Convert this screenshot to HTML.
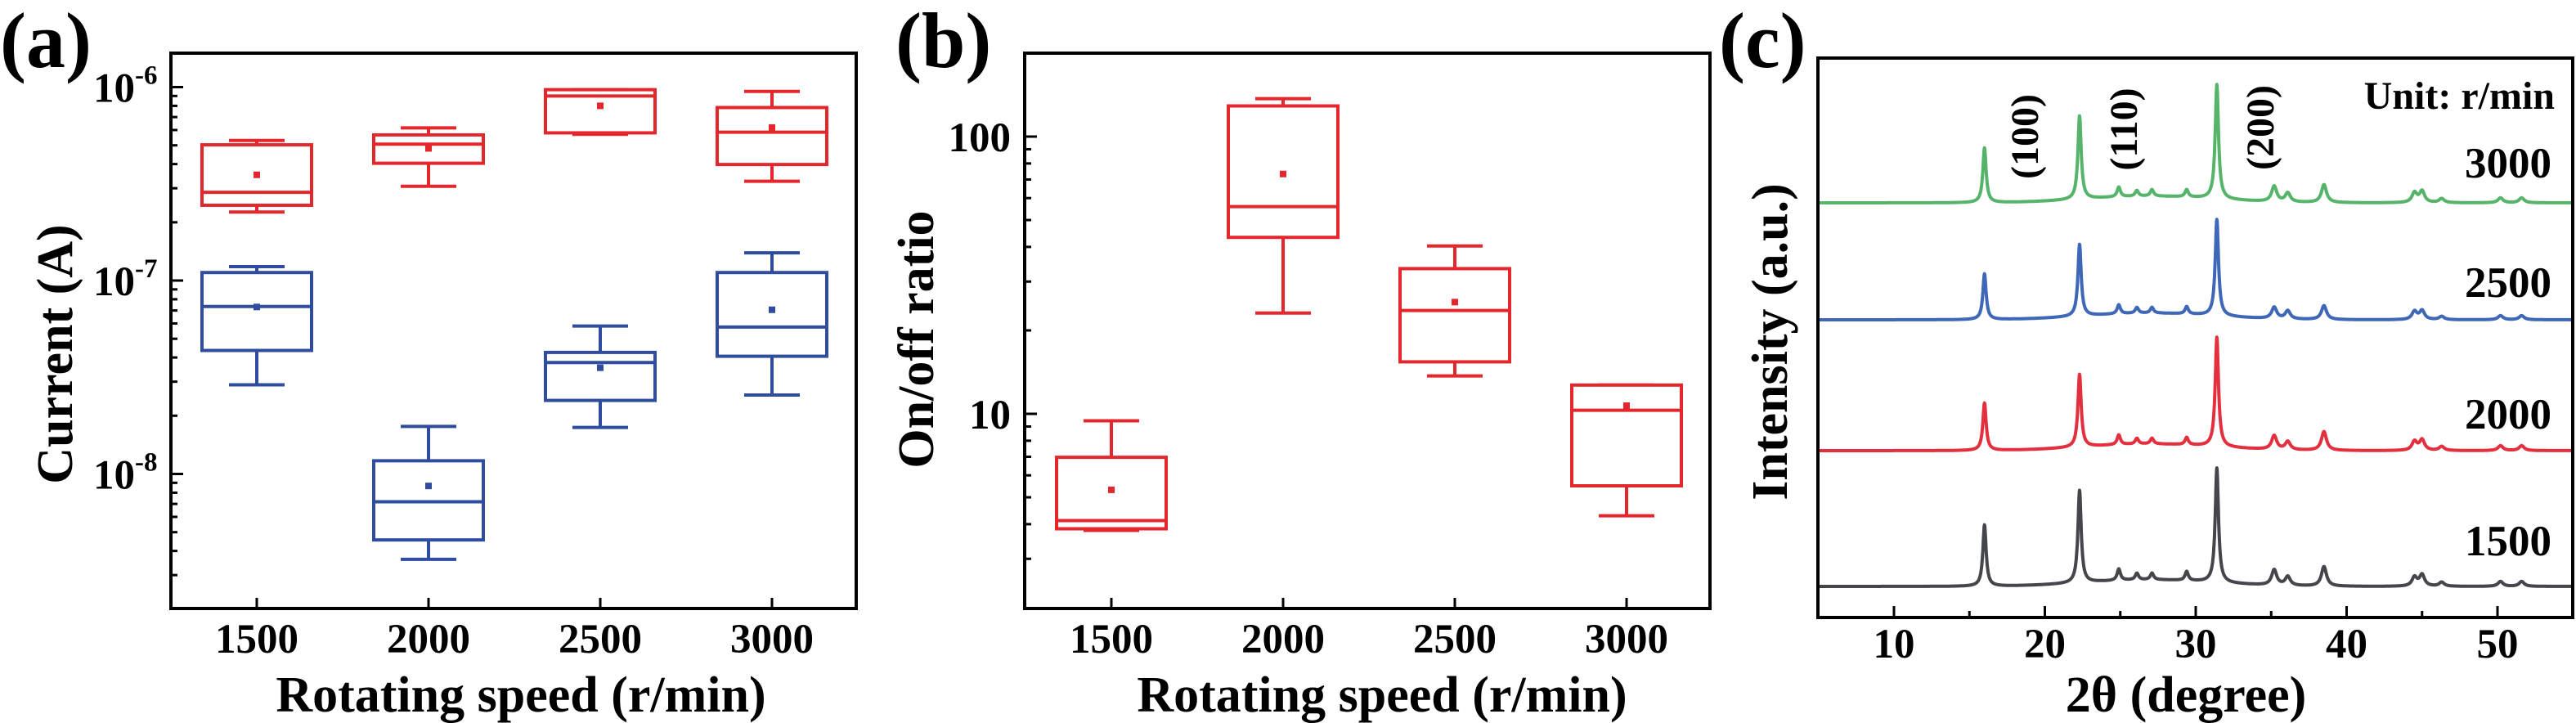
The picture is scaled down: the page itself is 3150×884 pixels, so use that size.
<!DOCTYPE html>
<html><head><meta charset="utf-8"><style>
html,body{margin:0;padding:0;background:#fff;}
svg{display:block;font-family:"Liberation Serif",serif;font-weight:bold;}
</style></head><body>
<svg id="fig" width="3150" height="884" viewBox="0 0 3150 884" xmlns="http://www.w3.org/2000/svg"></svg>
<script>
// ---------- Panel (a) data: current (A) ----------
const catsA = ["1500","2000","2500","3000"];
const onWhiskerTop = [5.3e-7, 6.15e-7, 9.7e-7, 9.5e-7];
const onBoxTop     = [5.03e-7, 5.66e-7, 9.7e-7, 7.84e-7];
const onMedian     = [2.86e-7, 5.07e-7, 9.0e-7, 5.85e-7];
const onBoxBottom  = [2.45e-7, 4.04e-7, 5.8e-7, 3.98e-7];
const onWhiskerBot = [2.26e-7, 3.07e-7, 5.7e-7, 3.26e-7];
const onMean       = [3.52e-7, 4.82e-7, 8.0e-7, 6.18e-7];
const offWhiskerTop = [1.18e-7, 1.76e-8, 5.82e-8, 1.39e-7];
const offBoxTop     = [1.10e-7, 1.17e-8, 4.25e-8, 1.10e-7];
const offMedian     = [7.34e-8, 7.18e-9, 3.77e-8, 5.75e-8];
const offBoxBottom  = [4.35e-8, 4.56e-9, 2.40e-8, 4.06e-8];
const offWhiskerBot = [2.89e-8, 3.62e-9, 1.74e-8, 2.56e-8];
const offMean       = [7.3e-8, 8.67e-9, 3.54e-8, 7.06e-8];
const yTicksA = [-6, -7, -8];
// ---------- Panel (b) data: on/off ratio ----------
const catsB = ["1500","2000","2500","3000"];
const rWhiskerTop = [9.44, 137, 40.3, 12.7];
const rBoxTop     = [6.97, 129, 33.4, 12.7];
const rMedian     = [4.12, 55.9, 23.6, 10.3];
const rBoxBottom  = [3.85, 43.3, 15.4, 5.5];
const rWhiskerBot = [3.8, 23.1, 13.7, 4.29];
const rMean       = [5.32, 73.3, 25.3, 10.7];
const yTicksB = [10, 100];
// ---------- Panel (c) data: XRD ----------
const xrdSeries = ["1500","2000","2500","3000"];
const xrdOffsets = [0, 166, 326, 469];
const peakPos = [16.0, 22.3, 24.9, 26.1, 27.1, 29.4, 31.4, 35.2, 36.1, 38.5, 44.5, 45.0, 46.3, 50.2, 51.6];
const peaks1500 = [75, 113, 14, 8, 8, 11, 140, 19, 11, 24, 11, 14, 5, 6, 6];
const peaks2000 = [58, 89, 12, 7, 7, 9, 134, 17, 10, 23, 11, 13, 5, 6, 6];
const peaks2500 = [56, 88, 11, 7, 7, 9, 118, 14, 10, 17, 10, 11, 4, 5, 5];
const peaks3000 = [67, 102, 12, 7, 8, 9, 140, 19, 11, 22, 12, 14, 5, 6, 6];
const xTicksC = [10, 20, 30, 40, 50];

const NS = "http://www.w3.org/2000/svg";
const svg = document.getElementById("fig");
function mk(tag, attrs, parent) {
  const e = document.createElementNS(NS, tag);
  for (const k in attrs) e.setAttribute(k, attrs[k]);
  (parent || svg).appendChild(e);
  return e;
}
function txt(s, attrs, parent) { const t = mk("text", attrs, parent); t.textContent = s; return t; }

const RED = "#e4262d", BLUE = "#2f4c9f";

// ===== Panel A =====
const A = {l: 209, r: 1047, t: 65, b: 744};
const gA = mk("g", {});


const yA = v => 106.5 + (-6 - Math.log10(v)) * 236.5;
const xA = i => 314 + i * 210;
function boxes(g, cats, xf, yf, wt, bt, md, bb, wb, mn, color, name) {
  cats.forEach((c, i) => {
    const bg = mk("g", {}, g);
    
    
    const x = xf(i), hw = 67, cw = 34;
    mk("line", {x1: x, x2: x, y1: yf(wt[i]), y2: yf(bt[i]), stroke: color, "stroke-width": 4}, bg);
    mk("line", {x1: x, x2: x, y1: yf(bb[i]), y2: yf(wb[i]), stroke: color, "stroke-width": 4}, bg);
    mk("line", {x1: x - cw, x2: x + cw, y1: yf(wt[i]), y2: yf(wt[i]), stroke: color, "stroke-width": 4}, bg);
    mk("line", {x1: x - cw, x2: x + cw, y1: yf(wb[i]), y2: yf(wb[i]), stroke: color, "stroke-width": 4}, bg);
    mk("rect", {x: x - hw, y: yf(bt[i]), width: 2 * hw, height: yf(bb[i]) - yf(bt[i]), fill: "#fff", stroke: color, "stroke-width": 4}, bg);
    mk("line", {x1: x - hw, x2: x + hw, y1: yf(md[i]), y2: yf(md[i]), stroke: color, "stroke-width": 4}, bg);
    mk("rect", {x: x - 4, y: yf(mn[i]) - 4, width: 8, height: 8, fill: color}, bg);
  });
}
boxes(gA, catsA, xA, yA, onWhiskerTop, onBoxTop, onMedian, onBoxBottom, onWhiskerBot, onMean, RED, "on-current");
boxes(gA, catsA, xA, yA, offWhiskerTop, offBoxTop, offMedian, offBoxBottom, offWhiskerBot, offMean, BLUE, "off-current");
function logTicks(g, yf, minExp, maxExp, left, top, bot) {
  for (let e = minExp; e <= maxExp; e++) for (let m = 1; m <= 9; m++) {
    const v = m * Math.pow(10, e), y = yf(v);
    if (y < top + 3 || y > bot - 3) continue;
    mk("line", {x1: left, x2: left + (m === 1 ? 15 : 8), y1: y, y2: y, stroke: "#000", "stroke-width": 3}, g);
  }
}
logTicks(gA, yA, -9, -6, A.l, A.t, A.b);
catsA.forEach((c, i) => {
  mk("line", {x1: xA(i), x2: xA(i), y1: A.b, y2: A.b - 13, stroke: "#000", "stroke-width": 3}, gA);
  const t = txt(c, {x: xA(i), y: 798, "font-size": 51, "text-anchor": "middle"}, gA);
  
  
});
yTicksA.forEach(e => {
  const t = mk("text", {x: 114, y: yA(Math.pow(10, e)) + 18, "font-size": 51}, gA);
  
  
  const s1 = mk("tspan", {}, t); s1.textContent = "10";
  const s2 = mk("tspan", {dy: -22, "font-size": 33}, t); s2.textContent = String(e);
});
mk("rect", {x: A.l, y: A.t, width: A.r - A.l, height: A.b - A.t, fill: "none", stroke: "#000", "stroke-width": 4}, gA);

// ===== Panel B =====
const B = {l: 1253, r: 2091, t: 65, b: 744};
const gB = mk("g", {});


const yB = v => 167 + (2 - Math.log10(v)) * 339;
const xB = i => 1359 + i * 210;
boxes(gB, catsB, xB, yB, rWhiskerTop, rBoxTop, rMedian, rBoxBottom, rWhiskerBot, rMean, RED, "on-off-ratio");
logTicks(gB, yB, 0, 2, B.l, B.t, B.b);
catsB.forEach((c, i) => {
  mk("line", {x1: xB(i), x2: xB(i), y1: B.b, y2: B.b - 13, stroke: "#000", "stroke-width": 3}, gB);
  const t = txt(c, {x: xB(i), y: 798, "font-size": 51, "text-anchor": "middle"}, gB);
  
  
});
yTicksB.forEach(v => {
  const t = txt(String(v), {x: 1236, y: yB(v) + 18, "font-size": 51, "text-anchor": "end"}, gB);
  
  
});
mk("rect", {x: B.l, y: B.t, width: B.r - B.l, height: B.b - B.t, fill: "none", stroke: "#000", "stroke-width": 4}, gB);

// ===== Panel C =====
const C = {l: 2223, r: 3146, t: 71, b: 755};
const gC = mk("g", {});


const xC = v => 2316 + (v - 10) * 18.45;
const yC = v => 717 - v;
const xrdPeaks = [peaks1500, peaks2000, peaks2500, peaks3000];
const xrdColors = ["#45464b", "#e3303f", "#3f67b8", "#55b46a"];
xrdSeries.forEach((s, k) => {
  let d = "";
  for (let x = 5; x <= 55.001; x += 0.02) {
    let v = xrdOffsets[k] + 8 * Math.exp(-Math.pow((x - 27) / 6, 2));
    peakPos.forEach((p, j) => {
      const w = j < 7 ? 0.13 : 0.2;
      v += xrdPeaks[k][j] / (1 + Math.pow((x - p) / w, 2));
    });
    d += (d ? "L" : "M") + xC(x).toFixed(1) + "," + yC(v).toFixed(1);
  }
  const p = mk("path", {d: d, fill: "none", stroke: xrdColors[k], "stroke-width": 4, "stroke-linejoin": "round"}, gC);
  
  
});
for (let v = 10; v <= 50; v += 5) {
  mk("line", {x1: xC(v), x2: xC(v), y1: C.b, y2: C.b - (v % 10 === 0 ? 14 : 8), stroke: "#000", "stroke-width": 3}, gC);
}
xTicksC.forEach(v => {
  const t = txt(String(v), {x: xC(v), y: 804, "font-size": 51, "text-anchor": "middle"}, gC);
  
  
});
mk("rect", {x: C.l, y: C.t, width: C.r - C.l, height: C.b - C.t, fill: "none", stroke: "#000", "stroke-width": 4}, gC);
const seriesLabelY = [679, 524, 363, 217];
xrdSeries.forEach((s, k) => {
  const t = txt(s, {x: 3120, y: seriesLabelY[k], "font-size": 53, "text-anchor": "end"}, gC);
  
  
});
</script>
<svg style="position:absolute;left:0;top:0" width="3150" height="884">
  <g font-family="Liberation Serif, serif" font-weight="bold" fill="#000">
    <text x="0" y="82" font-size="96">(a)</text>
    <text x="1095" y="82" font-size="96">(b)</text>
    <text x="2102" y="82" font-size="96">(c)</text>
    <text transform="translate(88,433) rotate(-90)" text-anchor="middle" font-size="62">Current (A)</text>
    <text transform="translate(1141,415) rotate(-90)" text-anchor="middle" font-size="62">On/off ratio</text>
    <text transform="translate(2185,418) rotate(-90)" text-anchor="middle" font-size="62">Intensity (a.u.)</text>
    <text x="637" y="870" text-anchor="middle" font-size="62">Rotating speed (r/min)</text>
    <text x="1690" y="870" text-anchor="middle" font-size="62">Rotating speed (r/min)</text>
    <text x="2673" y="870" text-anchor="middle" font-size="62">2θ (degree)</text>
    <text x="3124" y="133" text-anchor="end" font-size="48">Unit: r/min</text>
    <text transform="translate(2492,167) rotate(-90)" text-anchor="middle" font-size="48">(100)</text>
    <text transform="translate(2613,158) rotate(-90)" text-anchor="middle" font-size="48">(110)</text>
    <text transform="translate(2780,156) rotate(-90)" text-anchor="middle" font-size="48">(200)</text>
  </g>
</svg>
</body></html>
